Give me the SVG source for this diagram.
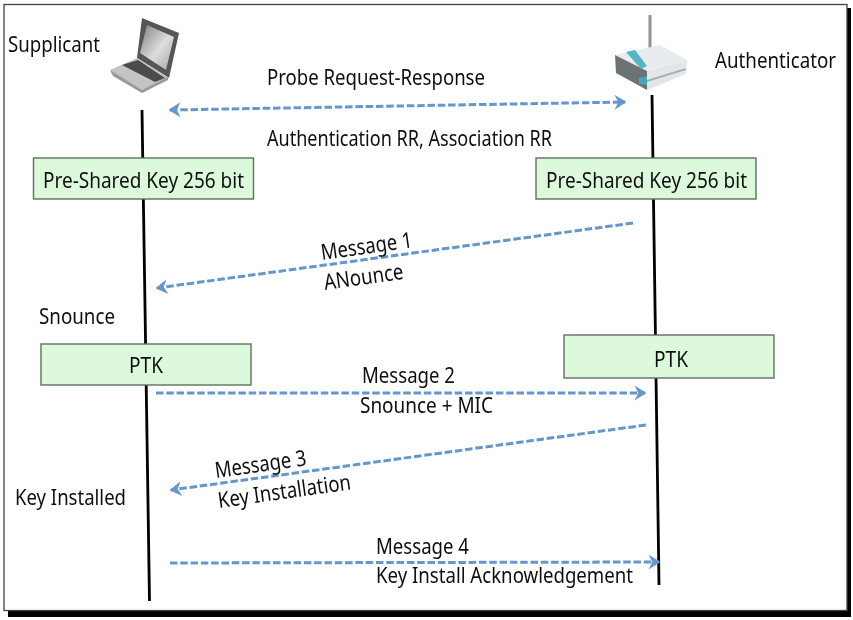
<svg xmlns="http://www.w3.org/2000/svg" width="853" height="620" viewBox="0 0 853 620">
<style>
text{font-family:"Noto Sans","Open Sans","Liberation Sans",sans-serif;font-size:22px;fill:#111}
.box{fill:#dcfadb;stroke:#5f6f5f;stroke-width:1.400}
.life{stroke:#000;stroke-width:2.800;fill:none}
.msg{stroke:#6596cc;stroke-width:3;stroke-dasharray:7.500 2.800;fill:none}
</style>
<defs>
<marker id="ah" viewBox="0 0 10 10" refX="9" refY="5" markerWidth="5" markerHeight="5" orient="auto-start-reverse" markerUnits="strokeWidth"><path d="M2 0L10 5L2 10L4.500 5Z" fill="#6596cc"/></marker>
<filter id="soft" x="-5%" y="-5%" width="110%" height="110%"><feGaussianBlur stdDeviation="0.55"/></filter>
<filter id="icon" x="-10%" y="-10%" width="120%" height="120%"><feGaussianBlur stdDeviation="0.6"/></filter>
<linearGradient id="screen" x1="0" y1="0" x2="1" y2="1"><stop offset="0" stop-color="#7d7d7d"/><stop offset="0.55" stop-color="#dedede"/><stop offset="1" stop-color="#a0a0a0"/></linearGradient>
</defs>
<rect width="853" height="620" fill="#fff"/>
<g id="frame">
<rect x="8" y="8" width="843" height="609" fill="#000"/>
<rect x="4" y="4.500" width="843" height="606" fill="#fff" stroke="#444" stroke-width="1.300"/>
</g>
<g id="supplicant-icon" filter="url(#icon)">
<path d="M142 18L179 33L169 78L137 58Z" fill="#565656"/>
<path d="M147 25L174 37L166 70L140 53Z" fill="url(#screen)"/>
<path d="M137 58L169 78L142 93L110 70Z" fill="#c4c4c4"/>
<path d="M122 65L138 60L165 78L155 82Z" fill="#4c4c4c"/>
<path d="M110 70L142 90L168 77V80L142 93L113 76Z" fill="#9a9a9a"/>
</g>
<g id="authenticator-icon" filter="url(#icon)">
<rect x="648.500" y="15" width="3" height="37" fill="#8d9393"/>
<path d="M615 55L660 45L687 60L647 71Z" fill="#e8ecee"/>
<path d="M615 55L647 71L647 90L616 73Z" fill="#6c7274"/>
<path d="M647 71L687 60L686 74L647 90Z" fill="#e2e6e8"/>
<path d="M647 80L686 68V70L647 82Z" fill="#a8aeb0"/>
<path d="M626 52L635 50L647 66L641 69Z" fill="#52b6c4"/>
<path d="M639 78L647 76V85L639 84Z" fill="#3fa9b8"/>
</g>
<g filter="url(#soft)">
<g id="lifelines">
<path class="life" d="M142 110L149.500 601"/>
<path class="life" d="M652 95L659 585"/>
</g>
<g id="connectors">
<path class="msg" d="M170 110L625 102" marker-start="url(#ah)" marker-end="url(#ah)"/>
<path class="msg" d="M633 223L157 288" marker-end="url(#ah)"/>
<path class="msg" d="M156 393L645 393" marker-end="url(#ah)"/>
<path class="msg" d="M646 425L171 490" marker-end="url(#ah)"/>
<path class="msg" d="M170 563L659 562" marker-end="url(#ah)"/>
</g>
<g id="psk-left"><rect class="box" x="33.500" y="158" width="220" height="41"/><text x="43" y="188" textLength="201" lengthAdjust="spacingAndGlyphs">Pre-Shared Key 256 bit</text></g>
<g id="psk-right"><rect class="box" x="536" y="158" width="220" height="41"/><text x="546" y="188" textLength="201" lengthAdjust="spacingAndGlyphs">Pre-Shared Key 256 bit</text></g>
<g id="ptk-left"><rect class="box" x="41" y="344" width="210" height="41"/><text x="129" y="373" textLength="34" lengthAdjust="spacingAndGlyphs">PTK</text></g>
<g id="ptk-right"><rect class="box" x="564" y="335" width="210" height="43"/><text x="654" y="367" textLength="34" lengthAdjust="spacingAndGlyphs">PTK</text></g>
<g id="labels">
<text x="8" y="52" textLength="92" lengthAdjust="spacingAndGlyphs">Supplicant</text>
<text x="715" y="68" textLength="121" lengthAdjust="spacingAndGlyphs">Authenticator</text>
<text x="267" y="85" textLength="218" lengthAdjust="spacingAndGlyphs">Probe Request-Response</text>
<text x="267" y="146" textLength="285" lengthAdjust="spacingAndGlyphs">Authentication RR, Association RR</text>
<text x="39" y="324" textLength="76" lengthAdjust="spacingAndGlyphs">Snounce</text>
<text x="15" y="505" textLength="111" lengthAdjust="spacingAndGlyphs">Key Installed</text>
<text transform="translate(322 260) rotate(-8)" textLength="92" lengthAdjust="spacingAndGlyphs">Message 1</text>
<text transform="translate(325 290) rotate(-8)" textLength="80" lengthAdjust="spacingAndGlyphs">ANounce</text>
<text x="362" y="383" textLength="93" lengthAdjust="spacingAndGlyphs">Message 2</text>
<text x="360" y="413" textLength="133" lengthAdjust="spacingAndGlyphs">Snounce + MIC</text>
<text transform="translate(216 478) rotate(-8)" textLength="92" lengthAdjust="spacingAndGlyphs">Message 3</text>
<text transform="translate(219 508) rotate(-8)" textLength="134" lengthAdjust="spacingAndGlyphs">Key Installation</text>
<text x="376" y="554" textLength="93" lengthAdjust="spacingAndGlyphs">Message 4</text>
<text x="376" y="583" textLength="257" lengthAdjust="spacingAndGlyphs">Key Install Acknowledgement</text>
</g>
</g>
</svg>
